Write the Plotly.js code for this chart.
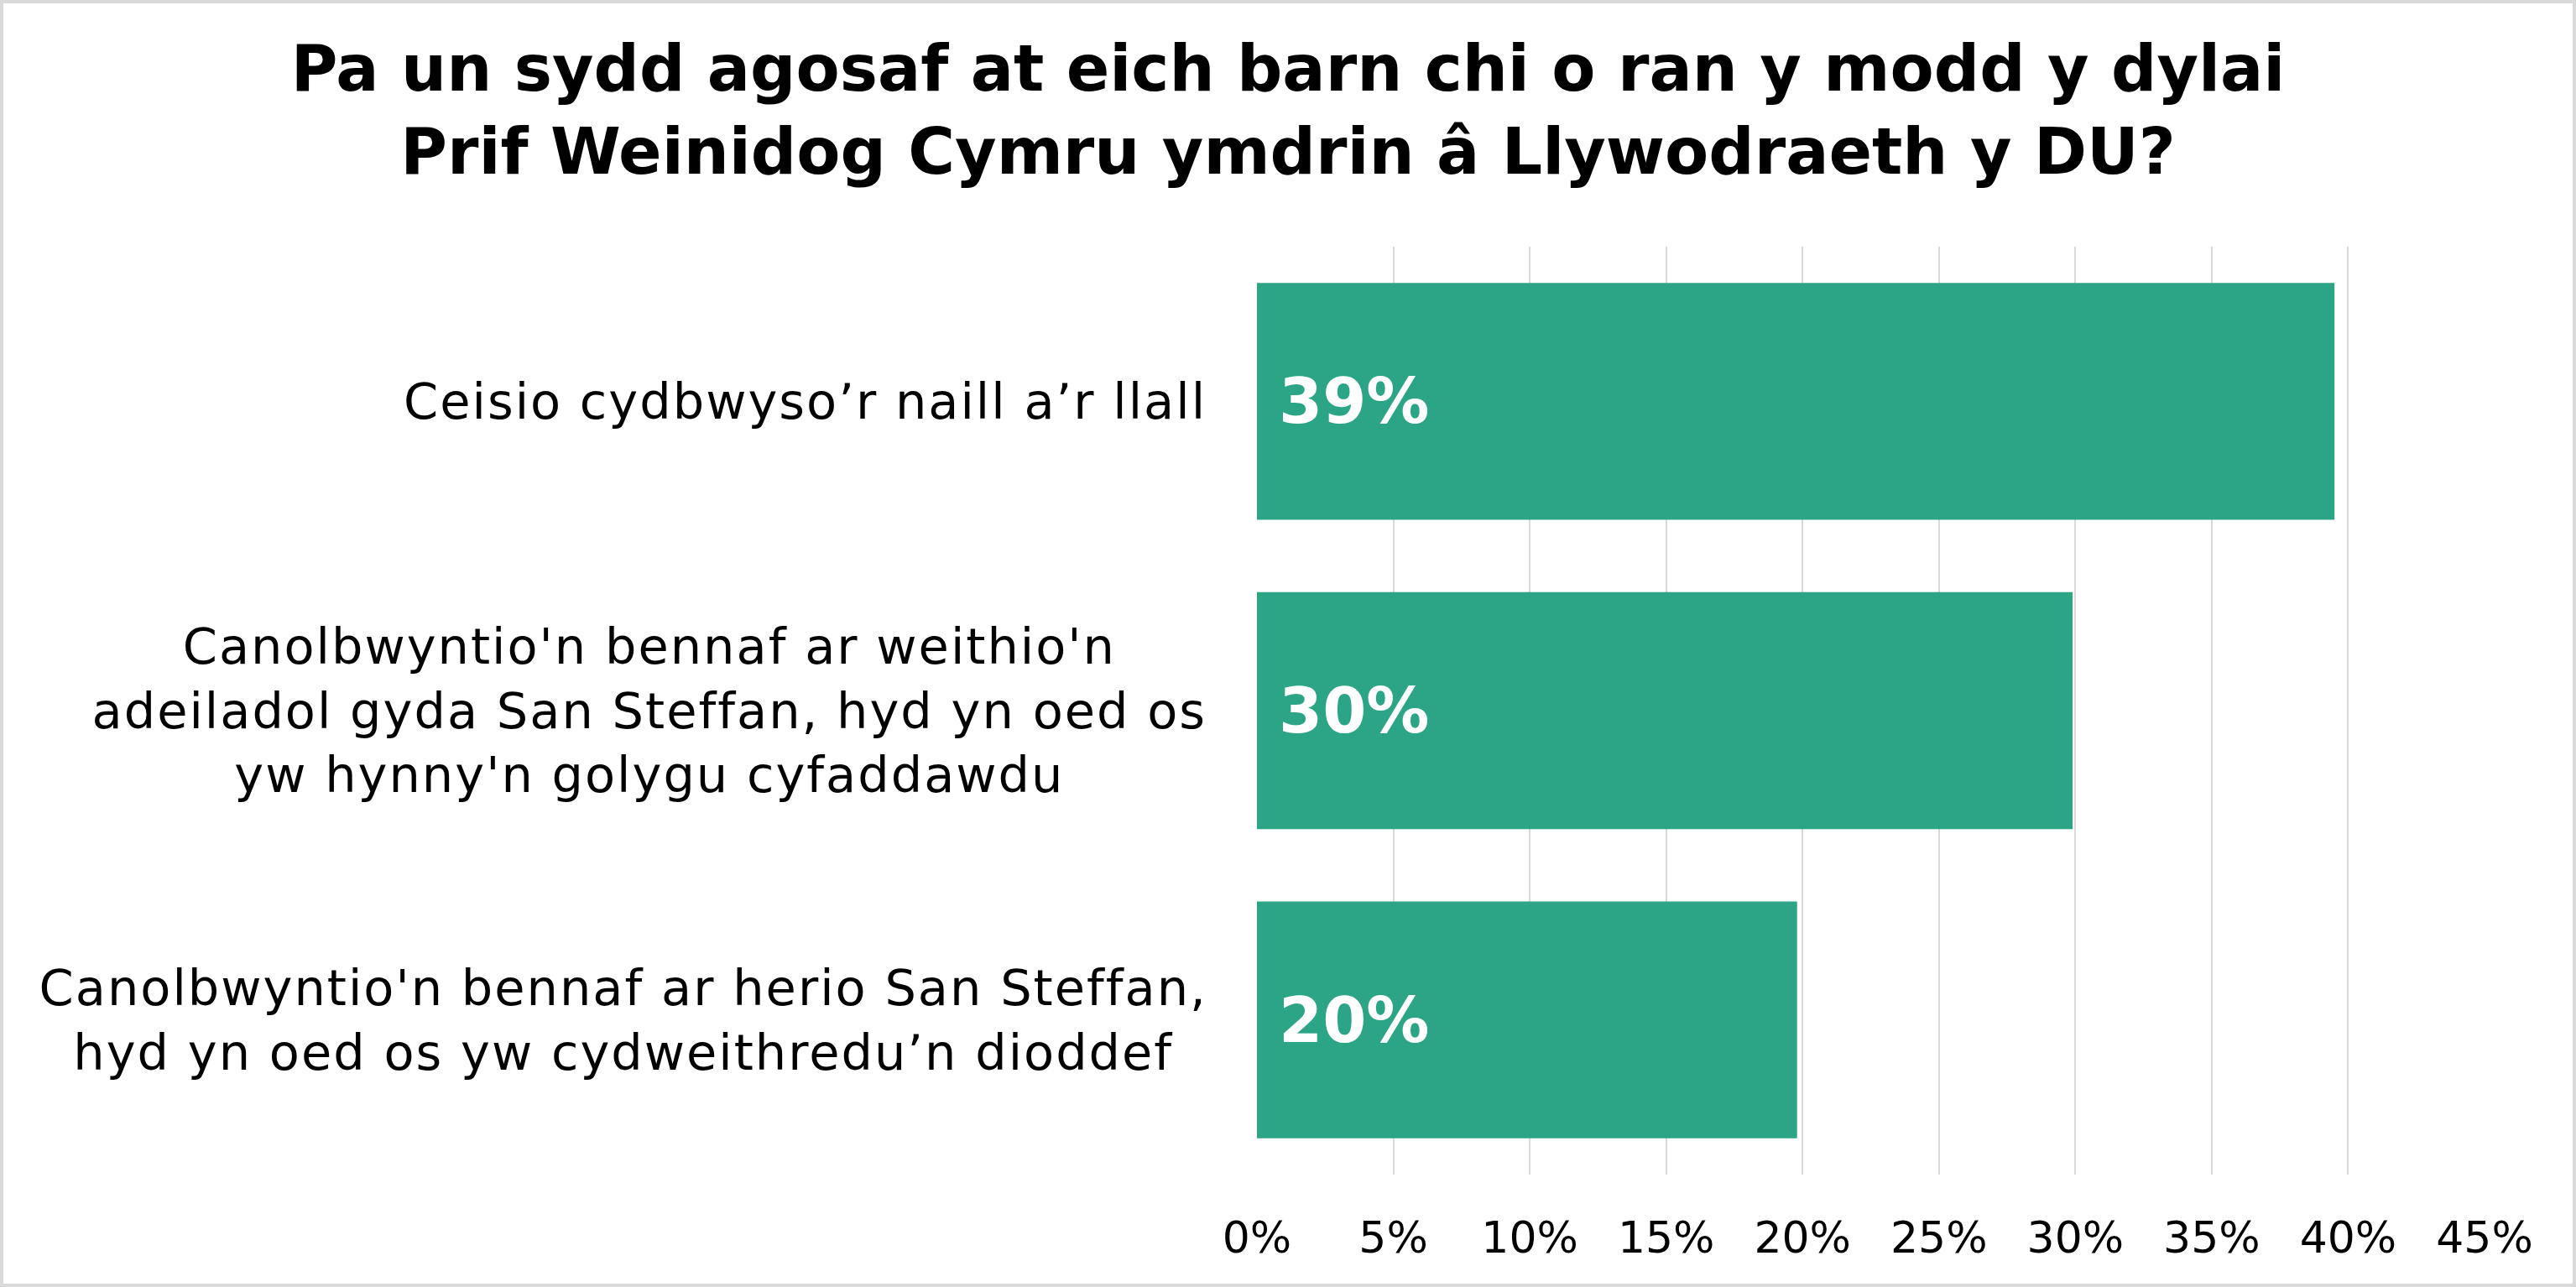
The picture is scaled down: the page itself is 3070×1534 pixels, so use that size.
<!DOCTYPE html>
<html>
<head>
<meta charset="utf-8">
<script src="https://cdn.plot.ly/plotly-3.0.1.min.js"></script>
<style>
  html, body { margin: 0; padding: 0; background: #ffffff; }
  #chart { width: 3070px; height: 1534px; box-sizing: border-box; border: 4px solid #d9d9d9; }
  /* Montserrat is wider than anything installed, so open the category labels up a bit */
  #chart .annotation[data-index="0"] text,
  #chart .annotation[data-index="1"] text,
  #chart .annotation[data-index="2"] text { letter-spacing: 2px; }
</style>
</head>
<body>
<div id="chart"></div>
<script>
// Survey answers, top to bottom as in the chart
const categories = [
    "Ceisio cydbwyso’r naill a’r llall",
    "Canolbwyntio'n bennaf ar weithio'n<br>adeiladol gyda San Steffan, hyd yn oed os<br>yw hynny'n golygu cyfaddawdu",
    "Canolbwyntio'n bennaf ar herio San Steffan,<br>hyd yn oed os yw cydweithredu’n dioddef"
];
const values = [39.5, 29.9, 19.8];
const valueLabels = ["39%", "30%", "20%"];
const tickValues = [0, 5, 10, 15, 20, 25, 30, 35, 40, 45];
const tickLabels = ["0%", "5%", "10%", "15%", "20%", "25%", "30%", "35%", "40%", "45%"];

const barColor = '#2ca586';
const fontFamily = '"DejaVu Sans", sans-serif';
const letterSpacing = 2;

const trace = {
    type: 'bar',
    orientation: 'h',
    x: values,
    y: categories,
    marker: { color: barColor, line: { width: 0 } },
    hoverinfo: 'skip'
};

// Category labels: centred multi-line blocks that sit left of the axis.
// Plotly measures them without the css letter-spacing, so pull them left by
// half the extra width of the longest line.
const annotations = categories.map(cat => {
    const longest = Math.max(...cat.split('<br>').map(s => s.length));
    return {
        x: 0,
        y: cat,
        xref: 'x',
        yref: 'y',
        text: cat,
        showarrow: false,
        xanchor: 'right',
        yanchor: 'middle',
        align: 'center',
        xshift: -58 - longest * letterSpacing / 2,
        font: { family: fontFamily, size: 59, color: '#000000' }
    };
});

// Value labels inside the bars, near the start
values.forEach((v, i) => {
    annotations.push({
        x: 0,
        y: categories[i],
        xref: 'x',
        yref: 'y',
        text: '<b>' + valueLabels[i] + '</b>',
        showarrow: false,
        xanchor: 'left',
        yanchor: 'middle',
        xshift: 24,
        font: { family: fontFamily, size: 75, color: '#ffffff' }
    });
});

const layout = {
    width: 3062,
    height: 1526,
    paper_bgcolor: '#ffffff',
    plot_bgcolor: '#ffffff',
    margin: { l: 1494, r: 105, t: 290, b: 130 },
    showlegend: false,
    bargap: 0.234,
    title: {
        text: '<b>Pa un sydd agosaf at eich barn chi o ran y modd y dylai<br>Prif Weinidog Cymru ymdrin â Llywodraeth y DU?</b>',
        font: { family: fontFamily, size: 76, color: '#000000' },
        x: 0.5,
        xanchor: 'center',
        y: 0.932,
        yanchor: 'top'
    },
    xaxis: {
        range: [0, 45],
        tickmode: 'array',
        tickvals: tickValues,
        ticktext: tickLabels,
        showgrid: true,
        gridcolor: '#d9d9d9',
        gridwidth: 2,
        zeroline: false,
        showline: false,
        ticks: '',
        ticklabelstandoff: 40,
        tickfont: { family: fontFamily, size: 52, color: '#000000' },
        fixedrange: true
    },
    yaxis: {
        type: 'category',
        autorange: 'reversed',
        showticklabels: false,
        showgrid: false,
        zeroline: false,
        showline: false,
        ticks: '',
        fixedrange: true
    },
    annotations: annotations
};

Plotly.newPlot('chart', [trace], layout, { displayModeBar: false, staticPlot: true });
</script>
</body>
</html>
